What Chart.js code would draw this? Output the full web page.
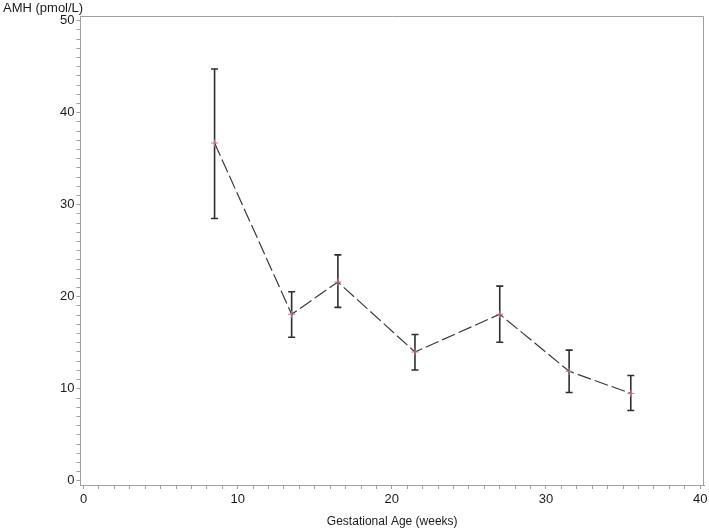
<!DOCTYPE html>
<html>
<head>
<meta charset="utf-8">
<script src="https://cdn.jsdelivr.net/npm/chart.js@4"></script>
<style>
	html, body { margin: 0; padding: 0; background: #ffffff; }
	#wrap { width: 709px; height: 531px; position: relative; }
</style>
</head>
<body>
<div id="wrap"><canvas id="amhChart"></canvas></div>
<script>
// Values
const weeks = [8.5, 13.5, 16.5, 21.5, 27, 31.5, 35.5];
const amhMean = [36.7, 18.1, 21.6, 14.0, 18.1, 11.9, 9.5];
const amhLow = [28.5, 15.6, 18.85, 12.05, 15.05, 9.6, 7.65];
const amhHigh = [44.75, 20.55, 24.55, 15.9, 21.15, 14.2, 11.45];

const xTicks = [];
for (let i = 0; i <= 40; i++) xTicks.push(i);
const yTicks = [];
for (let i = 0; i <= 50; i++) yTicks.push(i);

const axisGray = '#a0a0a0';
const textColor = '#1a1a1a';

// Error bars behind the markers
const errorBars = {
	id: 'errorBars',
	beforeDatasetsDraw(chart) {
		const ctx = chart.ctx;
		const xs = chart.scales.x;
		const ys = chart.scales.y;
		ctx.save();
		ctx.strokeStyle = '#2e2e2e';
		ctx.lineWidth = 1.6;
		for (let i = 0; i < weeks.length; i++) {
			const px = xs.getPixelForValue(weeks[i]);
			const top = ys.getPixelForValue(amhHigh[i]);
			const bot = ys.getPixelForValue(amhLow[i]);
			ctx.beginPath();
			ctx.moveTo(px, top);
			ctx.lineTo(px, bot);
			ctx.moveTo(px - 3.5, top);
			ctx.lineTo(px + 3.5, top);
			ctx.moveTo(px - 3.5, bot);
			ctx.lineTo(px + 3.5, bot);
			ctx.stroke();
		}
		ctx.restore();
	}
};

// Box around the plot area, and the y title sitting top-left
const frame = {
	id: 'frame',
	afterDraw(chart) {
		const a = chart.chartArea;
		const ctx = chart.ctx;
		ctx.save();
		ctx.strokeStyle = axisGray;
		ctx.lineWidth = 1;
		ctx.beginPath();
		ctx.moveTo(a.left + 0.5, a.top + 0.5);
		ctx.lineTo(a.right - 0.5, a.top + 0.5);
		ctx.lineTo(a.right - 0.5, a.bottom);
		ctx.stroke();
		ctx.fillStyle = textColor;
		ctx.font = '13px "Liberation Sans"';
		ctx.textAlign = 'left';
		ctx.textBaseline = 'middle';
		ctx.fillText('AMH (pmol/L)', 3, 8);
		ctx.restore();
	}
};

const ctx = document.getElementById('amhChart').getContext('2d');
const amhChart = new Chart(ctx, {
	type: 'line',
	data: {
		datasets: [{
			label: 'AMH',
			data: weeks.map((w, i) => ({ x: w, y: amhMean[i] })),
			borderColor: '#3a3a3a',
			borderWidth: 1.2,
			borderDash: [14, 4],
			fill: false,
			tension: 0,
			pointStyle: 'cross',
			pointRadius: 3.5,
			pointBorderColor: '#c87080',
			pointBorderWidth: 1,
			pointBackgroundColor: '#c87080'
		}]
	},
	options: {
		responsive: true,
		maintainAspectRatio: false,
		animation: false,
		layout: { padding: { left: 58, right: 3, top: 16, bottom: 2 } },
		plugins: {
			legend: { display: false },
			tooltip: { enabled: false },
			title: { display: false }
		},
		scales: {
			x: {
				type: 'linear',
				min: -0.2,
				max: 40.25,
				afterBuildTicks: (scale) => { scale.ticks = xTicks.map(v => ({ value: v })); },
				afterFit: (scale) => { scale.paddingRight = 0; scale.paddingLeft = 0; },
				ticks: {
					autoSkip: false,
					maxRotation: 0,
					color: textColor,
					padding: 3,
					font: { family: 'Liberation Sans', size: 13 },
					callback: (v) => (v % 10 === 0 ? v : '')
				},
				grid: { drawOnChartArea: false, drawTicks: true, tickLength: 4, color: axisGray },
				border: { color: axisGray },
				title: {
					display: true,
					text: 'Gestational Age (weeks)',
					color: textColor,
					font: { family: 'Liberation Sans', size: 12 },
					padding: { top: 4, bottom: 0 }
				}
			},
			y: {
				type: 'linear',
				min: -0.45,
				max: 50.5,
				afterBuildTicks: (scale) => { scale.ticks = yTicks.map(v => ({ value: v })); },
				ticks: {
					autoSkip: false,
					color: textColor,
					padding: 2,
					font: { family: 'Liberation Sans', size: 13 },
					callback: (v) => (v % 10 === 0 ? v : '')
				},
				grid: { drawOnChartArea: false, drawTicks: true, tickLength: 4, color: axisGray },
				border: { color: axisGray }
			}
		}
	},
	plugins: [errorBars, frame]
});
</script>
</body>
</html>
